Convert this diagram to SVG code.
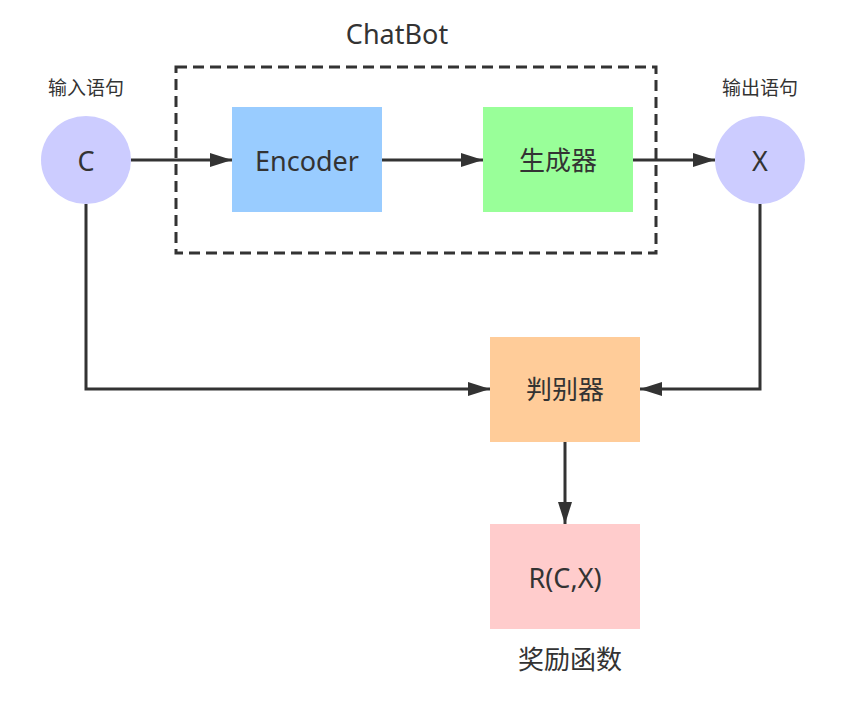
<svg xmlns="http://www.w3.org/2000/svg" width="844" height="715" viewBox="0 0 844 715">
<style>
text{font-family:"Noto Sans","Noto Sans CJK SC",sans-serif;fill:#333;text-anchor:middle;dominant-baseline:central}
.big{font-size:26px}
.lat{font-size:27px}
.small{font-size:19px}
.ln{fill:none;stroke:#333;stroke-width:3}
</style>
<defs>
<marker id="ah" markerWidth="22" markerHeight="16" refX="22" refY="8" orient="auto" markerUnits="userSpaceOnUse">
<path d="M0,1 L22,8 L0,15 Z" fill="#333"/>
</marker>
</defs>
<rect width="844" height="715" fill="#fff"/>
<g id="chatbot">
<rect x="176" y="67" width="480" height="186" fill="none" stroke="#333" stroke-width="3" stroke-dasharray="11,6"/>
<text class="lat" x="397" y="33">ChatBot</text>
</g>
<g id="connectors">
<path class="ln" d="M131,160 H232" marker-end="url(#ah)"/>
<path class="ln" d="M382,160 H483" marker-end="url(#ah)"/>
<path class="ln" d="M633,160 H715" marker-end="url(#ah)"/>
<path class="ln" d="M86,204 V389 H490" marker-end="url(#ah)"/>
<path class="ln" d="M760,204 V389 H640" marker-end="url(#ah)"/>
<path class="ln" d="M565,442 V524" marker-end="url(#ah)"/>
</g>
<g id="input">
<ellipse cx="86" cy="160" rx="45" ry="44" fill="#ccccff"/>
<text class="lat" x="86" y="160">C</text>
<text class="small" x="86" y="88">输入语句</text>
</g>
<g id="encoder">
<rect x="232" y="107" width="150" height="105" fill="#99ccff"/>
<text class="lat" x="307" y="160">Encoder</text>
</g>
<g id="generator">
<rect x="483" y="107" width="150" height="105" fill="#99ff99"/>
<text class="big" x="558" y="160">生成器</text>
</g>
<g id="output">
<ellipse cx="760" cy="160" rx="45" ry="44" fill="#ccccff"/>
<text class="lat" x="760" y="160">X</text>
<text class="small" x="760" y="88">输出语句</text>
</g>
<g id="discriminator">
<rect x="490" y="337" width="150" height="105" fill="#ffcc99"/>
<text class="big" x="565" y="389">判别器</text>
</g>
<g id="reward">
<rect x="490" y="524" width="150" height="105" fill="#ffcccc"/>
<text class="lat" x="565" y="577">R(C,X)</text>
<text class="big" x="570" y="659">奖励函数</text>
</g>
</svg>
